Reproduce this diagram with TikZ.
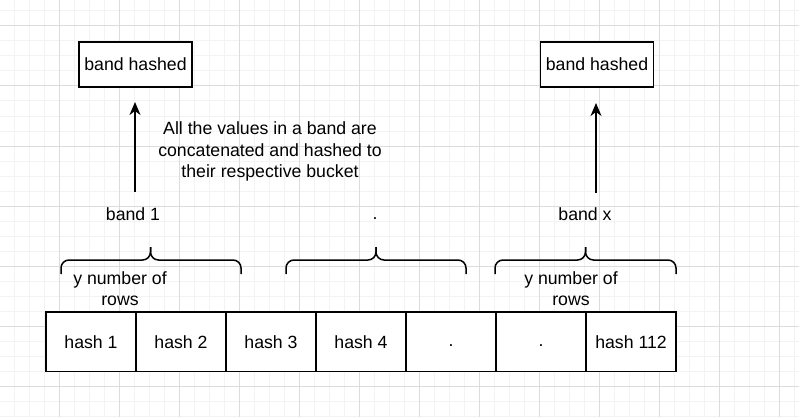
\documentclass[tikz,border=0pt]{standalone}
\usepackage{fontspec}
\setmainfont{Liberation Sans}
\usetikzlibrary{arrows.meta}
\definecolor{gridminor}{HTML}{F3F3F3}
\definecolor{gridmajor}{HTML}{DCDCDC}
\tikzset{
  hashbox/.style={draw=black, fill=white, line width=1.5pt, minimum width=113pt, minimum height=45pt, inner sep=0pt, outer sep=0pt},
  cellbox/.style={draw=black, fill=white, line width=1.5pt, minimum width=90pt, minimum height=59.5pt, inner sep=0pt, outer sep=0pt},
  lbl/.style={inner sep=0pt, align=center},
  arr/.style={line width=1.5pt, -{Stealth[length=13pt,width=11pt,inset=4pt]}},
  br/.style={line width=1.5pt, rounded corners=8pt},
}
\begin{document}
\begin{tikzpicture}[x=1pt,y=-1pt, every node/.style={font=\fontsize{17.7}{21.5}\selectfont}]
\useasboundingbox (0,0) rectangle (799,417);
\fill[white] (0,0) rectangle (799,417);
% grid
\begin{scope}
\clip (0,0) rectangle (799,417);
\foreach \k in {0,...,54} \draw[gridminor, line width=1pt] (-0.5+15*\k,0) -- (-0.5+15*\k,417);
\foreach \k in {0,...,28} \draw[gridminor, line width=1pt] (0,-4+15*\k) -- (799,-4+15*\k);
\foreach \k in {0,...,12} \draw[gridmajor, line width=1pt] (59.5+60*\k,0) -- (59.5+60*\k,417);
\foreach \k in {0,...,6} \draw[gridmajor, line width=1pt] (0,26+60*\k) -- (799,26+60*\k);
\end{scope}
% top boxes
\node[hashbox] (hb1) at (135.5,64.5) {band hashed};
\node[hashbox] (hb2) at (597,64.5) {band hashed};
% arrows
\coordinate (a1s) at (135,192);
\coordinate (a1e) at (135,102);
\coordinate (a2s) at (596,193);
\coordinate (a2e) at (596,103);
\draw[arr] (a1s) -- (a1e);
\draw[arr] (a2s) -- (a2e);
% description
\node[lbl] (desc) at (270,151.5) {All the values in a band are\\concatenated and hashed to\\their respective bucket};
% band labels
\node[lbl] (b1) at (133,214) {band 1};
\node[lbl, anchor=base] (bdot) at (375,219.5) {.};
\node[lbl] (bx) at (585,214) {band x};
% braces
\foreach \l/\m/\r in {61/150.5/241, 286/376/466, 495/585.5/676} {
  \draw[br] (\l,274) -- (\l,260) -- (\m,260) -- (\m,247);
  \draw[br] (\r,274) -- (\r,260) -- (\m,260) -- (\m,247);
}
% rows labels
\node[lbl] (r1) at (120,288.5) {y number of\\rows};
\node[lbl] (r2) at (571,288.5) {y number of\\rows};
% cells
\node[cellbox] (c1) at (91,341.75) {hash 1};
\node[cellbox] (c2) at (181,341.75) {hash 2};
\node[cellbox] (c3) at (271,341.75) {hash 3};
\node[cellbox] (c4) at (361,341.75) {hash 4};
\node[cellbox] (c5) at (451,341.75) {};
\node[cellbox] (c6) at (541,341.75) {};
\node[cellbox] (c7) at (631,341.75) {hash 112};
\node[lbl, anchor=base] (d5) at (c5.center |- 0,346.5) {.};
\node[lbl, anchor=base] (d6) at (c6.center |- 0,346.5) {.};
\end{tikzpicture}
\end{document}
